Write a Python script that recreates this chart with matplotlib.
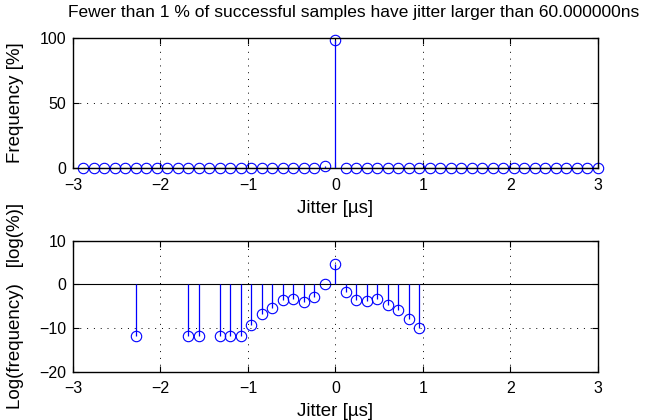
import numpy as np
import matplotlib
matplotlib.use("Agg")
import matplotlib.pyplot as plt

plt.rcParams['font.family'] = ['Liberation Sans', 'DejaVu Sans']
plt.rcParams['font.size'] = 11.5

# bin centres of the jitter histogram (us)
bins = np.arange(-24, 26) * 0.12

# log of the frequency (%) for bins that hold samples
log_bins = [-2.28, -1.68, -1.56, -1.32, -1.20, -1.08, -0.96, -0.84, -0.72, -0.60,
            -0.48, -0.36, -0.24, -0.12, 0.00, 0.12, 0.24, 0.36, 0.48, 0.60,
            0.72, 0.84, 0.96]
log_freq = [-11.75, -11.75, -11.75, -11.75, -11.75, -11.75, -9.3, -6.8, -5.35, -3.67,
            -3.44, -3.97, -2.98, 0.15, 4.59, -1.76, -3.67, -3.9, -3.28, -4.66,
            -5.8, -7.94, -10.0]

# frequency in % per bin (zero where no samples)
freq = np.zeros(len(bins))
for b, lf in zip(log_bins, log_freq):
    freq[np.argmin(np.abs(bins - b))] = np.exp(lf)

blue = '#0000ff'
lab_size = 13.5

fig = plt.figure(figsize=(6.5, 4.2), dpi=100)
ax1 = fig.add_axes([0.1123, 0.600, 0.8077, 0.3095])
ax2 = fig.add_axes([0.1123, 0.115, 0.8077, 0.312])


def style(ax):
    ax.set_axisbelow(True)
    ax.grid(True, color='black', linestyle=(0, (1, 6)), linewidth=0.7)
    ax.tick_params(direction='in', top=True, right=True, length=4, width=0.8)
    ax.tick_params(axis='x', pad=7)
    ax.tick_params(axis='y', pad=5)
    for s in ax.spines.values():
        s.set_linewidth(1.0)
    ax.set_xlim(-3, 3)
    ax.set_xticks([-3, -2, -1, 0, 1, 2, 3])
    ax.set_xlabel('Jitter [µs]', fontsize=lab_size, labelpad=5)
    ax.yaxis.set_label_coords(-0.093, 0.5)


ml, sl, bl = ax1.stem(bins, freq, basefmt='k-')
plt.setp(ml, marker='o', markersize=7.5, markerfacecolor='none', markeredgecolor=blue, markeredgewidth=0.8)
plt.setp(sl, color=blue, linewidth=0.9, zorder=3)
plt.setp(bl, linewidth=0.8)
ml.set_clip_on(False)
ax1.set_ylim(0, 100)
ax1.set_yticks([0, 50, 100])
ax1.set_ylabel('Frequency [%]', fontsize=lab_size)
style(ax1)
ax1.set_title('Fewer than 1 % of successful samples have jitter larger than 60.000000ns',
              fontsize=12.5, pad=15, x=0.534)

ml, sl, bl = ax2.stem(log_bins, log_freq, basefmt='k-')
plt.setp(ml, marker='o', markersize=7.5, markerfacecolor='none', markeredgecolor=blue, markeredgewidth=0.8)
plt.setp(sl, color=blue, linewidth=0.9, zorder=3)
bl.set_xdata([-3, 3])
plt.setp(bl, linewidth=0.8)
ax2.set_ylim(-20, 10)
ax2.set_yticks([-20, -10, 0, 10])
ax2.set_ylabel('Log(frequency)   [log(%)]', fontsize=lab_size)
style(ax2)

fig.savefig('out.png', dpi=100)
